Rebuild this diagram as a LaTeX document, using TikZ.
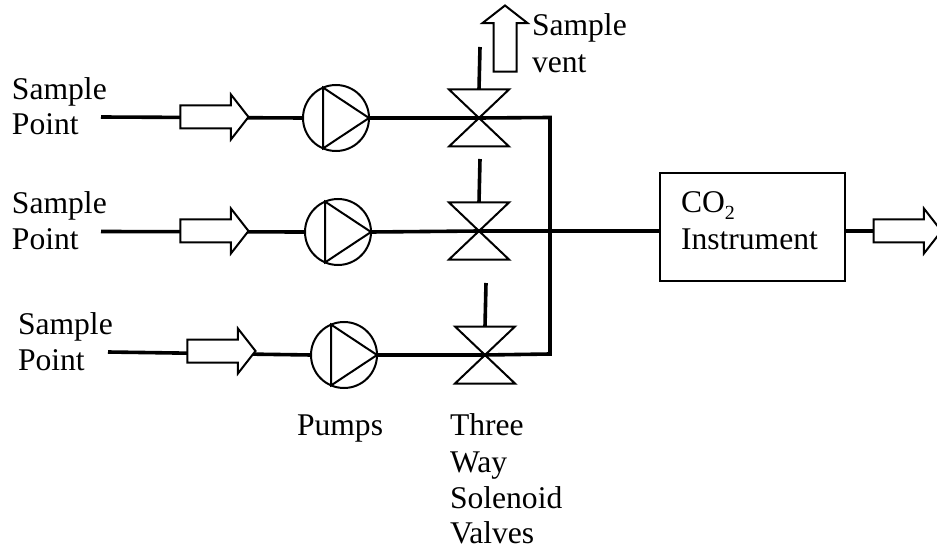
\documentclass[tikz,border=0pt]{standalone}
\usepackage{fontspec}
\setmainfont{Liberation Serif}
\usetikzlibrary{shapes.arrows}
\tikzset{
  pipe/.style={line width=3.6pt,line cap=butt,line join=miter},
  thin part/.style={line width=2pt,line join=miter},
  flow/.style={draw,line width=2pt,fill=white,single arrow,single arrow head extend=11pt,
    single arrow tip angle=104,minimum height=68pt,inner sep=0pt,outer sep=0pt,
    execute at begin node={\rule{0pt}{21pt}}},
  pump/.style={draw,circle,line width=2pt,minimum size=66pt,inner sep=0pt,outer sep=0pt},
  lab/.style={anchor=base west,inner sep=0pt,outer sep=0pt,font=\fontsize{31.6}{37}\selectfont},
  instrument/.style={draw,line width=2pt,inner sep=0pt,outer sep=0pt,minimum width=185pt,minimum height=108pt}
}
\newcommand{\pumpsym}[3]{%
  \node[pump] (#1) at (#2,#3) {};
  \draw[thin part] (#1.113) -- (#1.-113) -- (#1.0) -- cycle;}
\newcommand{\valvesym}[3]{%
  \coordinate (#1) at (#2,#3);
  \coordinate (#1t) at (#2,#3-28.5);
  \draw[thin part] ([shift={(-30pt,28.5pt)}]#1) -- ([shift={(30pt,28.5pt)}]#1) -- ([shift={(-30pt,-28.5pt)}]#1) -- ([shift={(30pt,-28.5pt)}]#1) -- cycle;}
\begin{document}
\begin{tikzpicture}[x=1pt,y=-1pt]
\useasboundingbox (0,0) rectangle (937,548);
% start points
\coordinate (s1) at (101,117);
\coordinate (s2) at (101,231.5);
\coordinate (s3) at (108,352);
\coordinate (vs1) at (480,47);
\coordinate (vs2) at (480,159);
\coordinate (vs3) at (486,283);
\coordinate (bus1) at (550,117.5);
\coordinate (bus2) at (550,231);
\coordinate (bus3) at (550,354);
% pumps
\pumpsym{p1}{336}{118}
\pumpsym{p2}{338}{232}
\pumpsym{p3}{344}{355}
% valves
\valvesym{v1}{479}{118}
\valvesym{v2}{479}{231}
\valvesym{v3}{485}{355}
% instrument
\node[instrument] (co) at (752.5,227) {};
% pipes
\draw[pipe] (s1) -- (p1.west);
\draw[pipe] (s2) -- (p2.west);
\draw[pipe] (s3) -- (p3.west);
\draw[pipe] (p1.east) -- (v1) -- (bus1) -- (bus3) -- (v3) -- (p3.east);
\draw[pipe] (p2.east) -- (v2) -- (bus2 -| co.west);
\draw[pipe] (vs1) -- (v1t);
\draw[pipe] (vs2) -- (v2t);
\draw[pipe] (vs3) -- (v3t);
% flow arrows
\node[flow] (a1) at (210,117) {};
\node[flow] (a2) at (210,231) {};
\node[flow] (a3) at (217,351) {};
\node[flow] (a4) at (903,231) {};
\node[flow,rotate=90,minimum height=66pt] (a5) at (505,43) {};
\draw[pipe] (co.east |- a4) -- (a4.tail);
% labels
\node[lab] (t1) at (12,100) {Sample};
\node[lab] (t2) at (12,135) {Point};
\node[lab] (t3) at (12,214) {Sample};
\node[lab] (t4) at (12,250) {Point};
\node[lab] (t5) at (18,334) {Sample};
\node[lab] (t6) at (18,370) {Point};
\node[lab] (t7) at (532,36) {Sample};
\node[lab] (t8) at (532,73) {vent};
\node[lab] (t9) at (681,213) {CO\raisebox{-0.22em}{\fontsize{20}{20}\selectfont 2}};
\node[lab] (t10) at (681,250) {Instrument};
\node[lab] (t11) at (297,435) {Pumps};
\node[lab] (t12) at (450,435) {Three};
\node[lab] (t13) at (450,472) {Way};
\node[lab] (t14) at (450,508) {Solenoid};
\node[lab] (t15) at (450,543) {Valves};
\end{tikzpicture}
\end{document}
